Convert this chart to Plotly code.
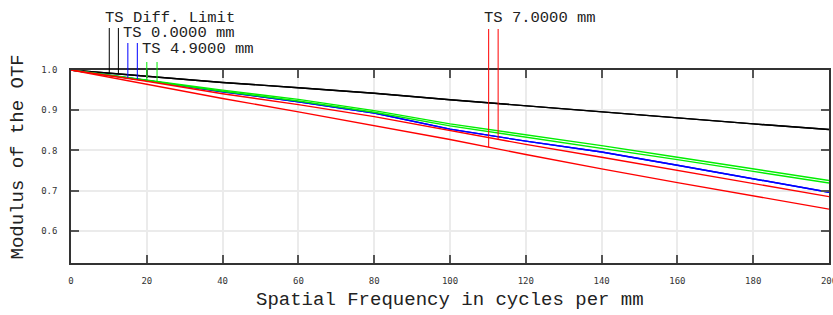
import numpy as np
import plotly.graph_objects as go

# ---- data ----
freq = [0, 20, 40, 60, 80, 100, 120, 140, 160, 180, 200]
diff_limit = [1.0, 0.985, 0.969, 0.956, 0.942, 0.926, 0.911, 0.895, 0.880, 0.866, 0.852]
f0_ts = [1.0, 0.974, 0.946, 0.921, 0.893, 0.853, 0.823, 0.796, 0.763, 0.729, 0.696]
f49_t = [1.0, 0.975, 0.950, 0.927, 0.899, 0.866, 0.839, 0.812, 0.783, 0.754, 0.725]
f49_s = [1.0, 0.974, 0.947, 0.923, 0.895, 0.861, 0.833, 0.806, 0.777, 0.748, 0.719]
f70_t = [1.0, 0.965, 0.929, 0.896, 0.862, 0.827, 0.790, 0.754, 0.720, 0.687, 0.654]
f70_s = [1.0, 0.972, 0.941, 0.914, 0.884, 0.850, 0.815, 0.783, 0.750, 0.718, 0.685]

xticks = [0, 20, 40, 60, 80, 100, 120, 140, 160, 180, 200]
yticks = [0.6, 0.7, 0.8, 0.9, 1.0]
ytick_text = ["0.6", "0.7", "0.8", "0.9", "1.0"]

labels = ["TS Diff. Limit", "TS 0.0000 mm", "TS 4.9000 mm", "TS 7.0000 mm"]

# ---- layout constants ----
W, H = 833, 315
L, R, T, B = 71, 4, 70, 52
YMIN, YMAX = 0.52, 1.0
XMIN, XMAX = 0, 200
pw = W - L - R
ph = H - T - B

def px_x(p):
    return (p - L) / pw

def px_y(p):
    return (H - B - p) / ph

def val_y(v):
    return (v - YMIN) / (YMAX - YMIN)

BLACK, BLUE, GREEN, RED = "#000000", "#0000ff", "#00ee00", "#ff0000"

fig = go.Figure()
series = [
    (diff_limit, BLACK), (diff_limit, BLACK),
    (f0_ts, BLUE), (f0_ts, BLUE),
    (f49_t, GREEN), (f49_s, GREEN),
    (f70_t, RED), (f70_s, RED),
]
for ys, col in series:
    fig.add_trace(go.Scatter(x=freq, y=ys, mode="lines",
                             line=dict(color=col, width=1.4),
                             showlegend=False, hoverinfo="skip"))

mono = "Liberation Mono, Courier New, monospace"
annotations = []
shapes = []

legend_items = [
    (labels[0], 104, 18, BLACK, [10.1, 12.5], [diff_limit, diff_limit], 28),
    (labels[1], 122, 33, BLUE, [15.0, 17.5], [f0_ts, f0_ts], 43),
    (labels[2], 141, 49, GREEN, [20.0, 22.7], [f49_s, f49_t], 62),
    (labels[3], 483, 18, RED, [110.2, 112.7], [f70_t, f70_s], 29),
]
for text, tx, ty, col, lfs, curves, top in legend_items:
    annotations.append(dict(text=text, x=px_x(tx), y=px_y(ty), xref="paper", yref="paper",
                            xanchor="left", yanchor="middle", showarrow=False,
                            font=dict(family=mono, size=15.5, color="#222222"),
                            borderpad=0))
    for lf, cv in zip(lfs, curves):
        v = float(np.interp(lf, freq, cv))
        shapes.append(dict(type="line", xref="paper", yref="paper",
                           x0=lf / XMAX, x1=lf / XMAX, y0=val_y(v), y1=px_y(top),
                           line=dict(color=col, width=1)))

annotations.append(dict(text="Spatial Frequency in cycles per mm", x=0.5, y=px_y(300),
                        xref="paper", yref="paper", xanchor="center", yanchor="middle",
                        showarrow=False, font=dict(family=mono, size=19, color="#222222")))
annotations.append(dict(text="Modulus of the OTF", x=px_x(17.5), y=px_y(157),
                        xref="paper", yref="paper", xanchor="center", yanchor="middle",
                        textangle=-90, showarrow=False,
                        font=dict(family=mono, size=19, color="#222222")))

tickfont = dict(family="DejaVu Sans Mono, monospace", size=9, color="#333333")
fig.update_layout(
    width=W, height=H,
    margin=dict(l=L, r=R, t=T, b=B, autoexpand=False),
    paper_bgcolor="white", plot_bgcolor="white",
    showlegend=False,
    annotations=annotations,
    shapes=shapes,
    xaxis=dict(range=[XMIN, XMAX], tickvals=xticks, ticks="inside", ticklen=8,
               tickcolor="#555555", tickwidth=1.5, showline=True, mirror="ticks",
               linecolor="#333333", linewidth=1.5, showgrid=True, gridcolor="#ebebeb",
               gridwidth=1.5, zeroline=False, tickfont=tickfont, ticklabelstandoff=8,
               automargin=False, ticklabeloverflow="allow"),
    yaxis=dict(range=[YMIN, YMAX], tickvals=yticks, ticktext=ytick_text, ticks="inside",
               ticklen=8, tickcolor="#555555", tickwidth=1.5, showline=True, mirror="ticks",
               linecolor="#333333", linewidth=1.5, showgrid=True, gridcolor="#ebebeb",
               gridwidth=1.5, zeroline=False, tickfont=tickfont, ticklabelstandoff=10,
               automargin=False),
)

fig.write_html("out.html", config={"displayModeBar": False},
               post_script="document.body.style.margin='0';document.body.style.overflow='hidden';")
